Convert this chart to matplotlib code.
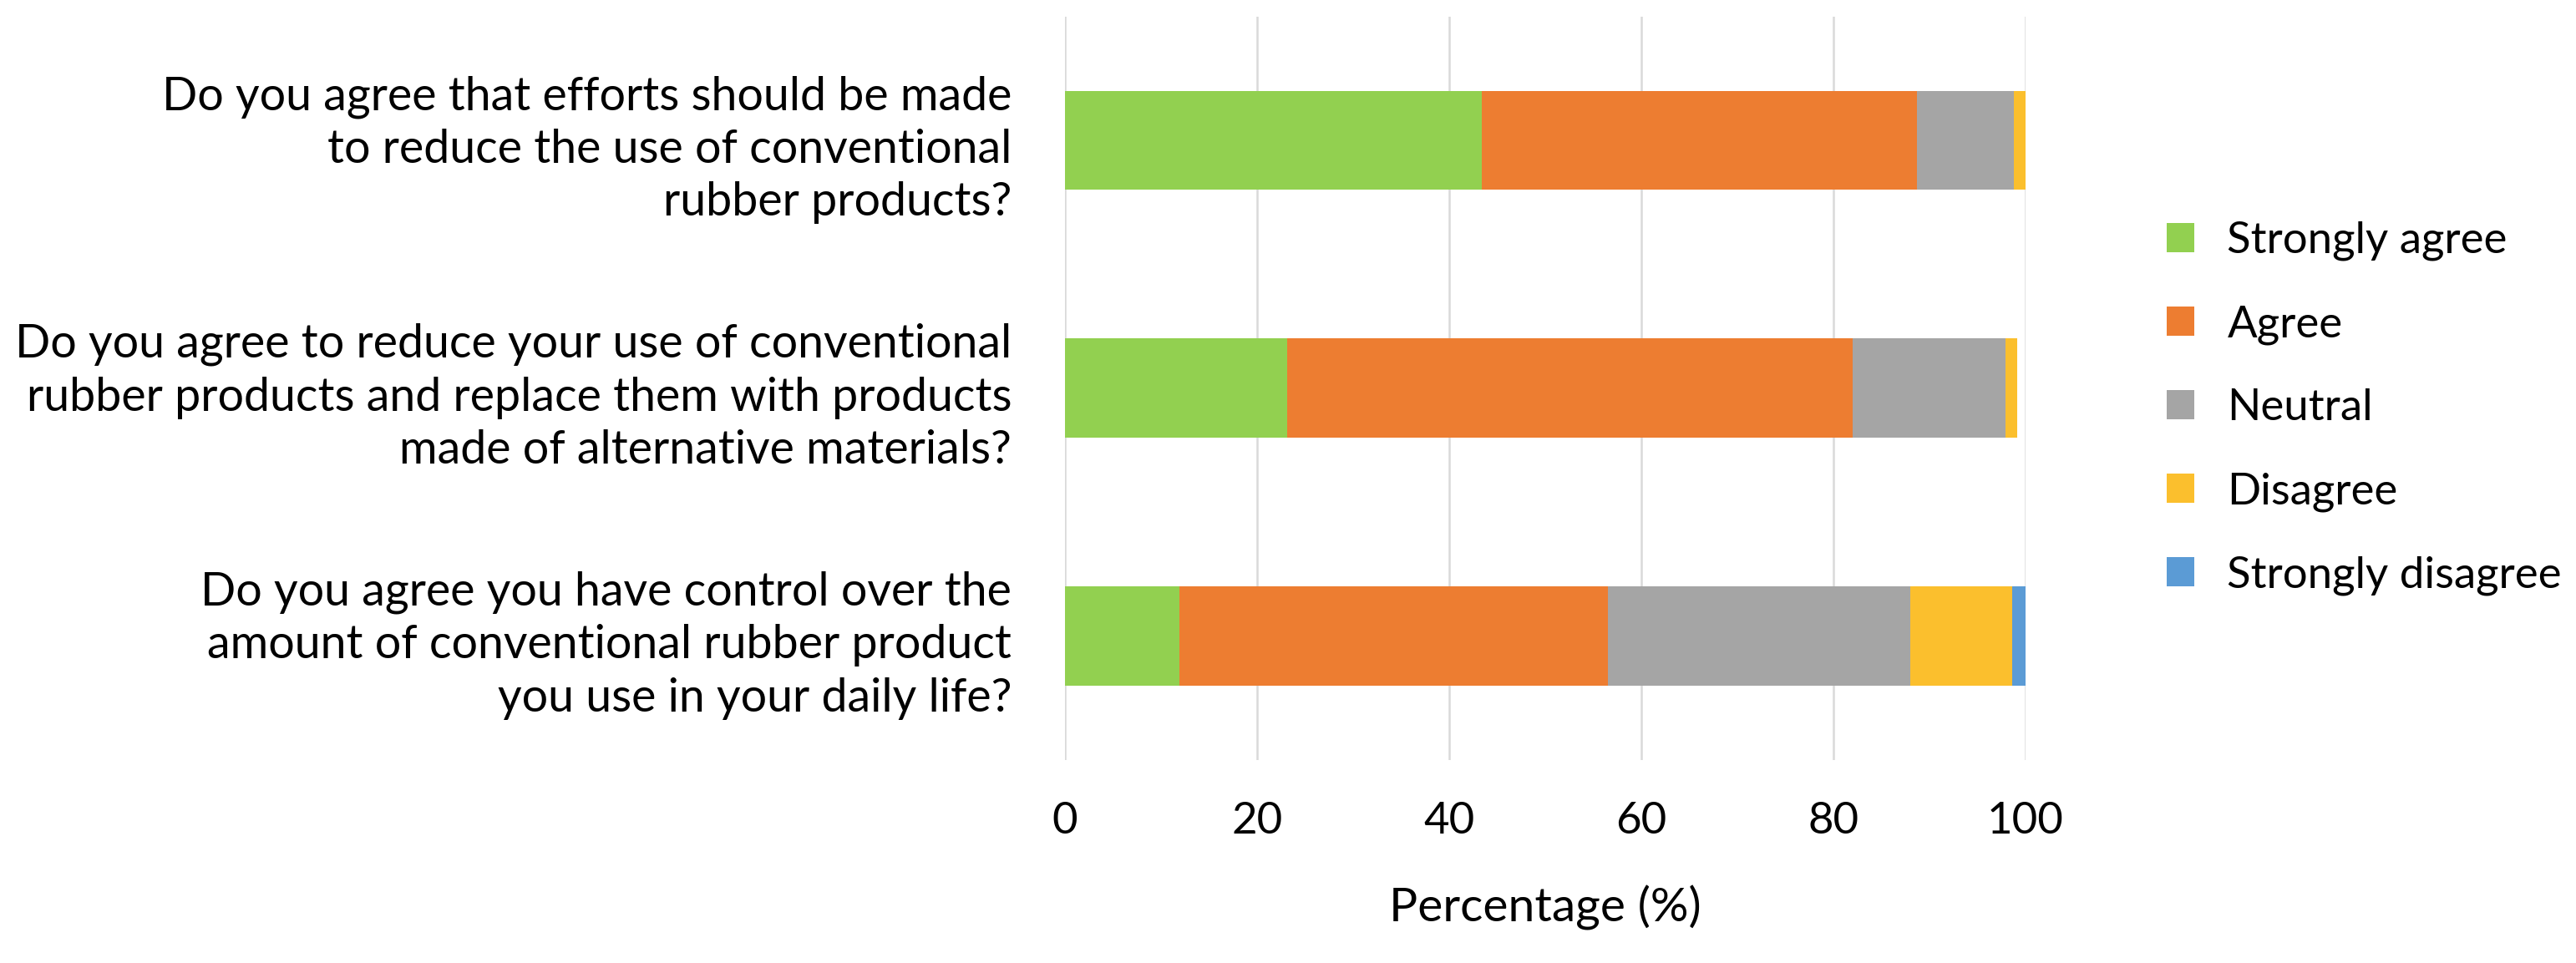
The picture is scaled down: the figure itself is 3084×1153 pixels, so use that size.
import numpy as np
import matplotlib.pyplot as plt
from matplotlib.patches import Patch

# Survey questions (top to bottom)
questions = [
    "Do you agree that efforts should be made\nto reduce the use of conventional\nrubber products?",
    "Do you agree to reduce your use of conventional\nrubber products and replace them with products\nmade of alternative materials?",
    "Do you agree you have control over the\namount of conventional rubber product\nyou use in your daily life?",
]

# Response shares (%)
strongly_agree = [43.4, 23.1, 11.9]
agree = [45.3, 58.9, 44.6]
neutral = [10.1, 15.9, 31.5]
disagree = [1.2, 1.2, 10.6]
strongly_disagree = [0.0, 0.0, 1.4]

labels = ["Strongly agree", "Agree", "Neutral", "Disagree", "Strongly disagree"]
colors = ["#92d050", "#ed7d31", "#a5a5a5", "#fbbf2d", "#5b9bd5"]
series = [strongly_agree, agree, neutral, disagree, strongly_disagree]

plt.rcParams['font.family'] = ['Lato', 'DejaVu Sans']

fig = plt.figure(figsize=(30.84, 11.53), dpi=100)
ax = fig.add_axes([0.4134, 0.211, 0.3729, 0.772])

y = np.arange(len(questions))
left = np.zeros(len(questions))
for vals, lab, col in zip(series, labels, colors):
    ax.barh(y, vals, height=0.4, left=left, color=col, label=lab, zorder=3)
    left += np.array(vals)

ax.set_xlim(0, 100)
ax.set_ylim(-0.5, 2.5)
ax.invert_yaxis()
ax.set_xticks(np.arange(0, 101, 20))
ax.set_yticks(y)
ax.set_yticklabels(questions, fontsize=40, ha='right', linespacing=1.3)
ax.tick_params(axis='x', length=0, labelsize=38, pad=36)
ax.tick_params(axis='y', length=0, pad=46)
ax.xaxis.grid(True, color='#d9d9d9', linewidth=1.8, zorder=0)
for s in ax.spines.values():
    s.set_visible(False)
ax.set_xlabel("Percentage (%)", fontsize=41, labelpad=38)

handles = [Patch(facecolor=c, label=l) for l, c in zip(labels, colors)]
fig.legend(handles=handles, loc='center left', bbox_to_anchor=(0.841, 0.576),
           frameon=False, fontsize=38, handlelength=0.64, handleheight=0.64,
           handletextpad=0.74, labelspacing=1.0, borderpad=0, borderaxespad=0)

fig.savefig("out.png", dpi=100)
